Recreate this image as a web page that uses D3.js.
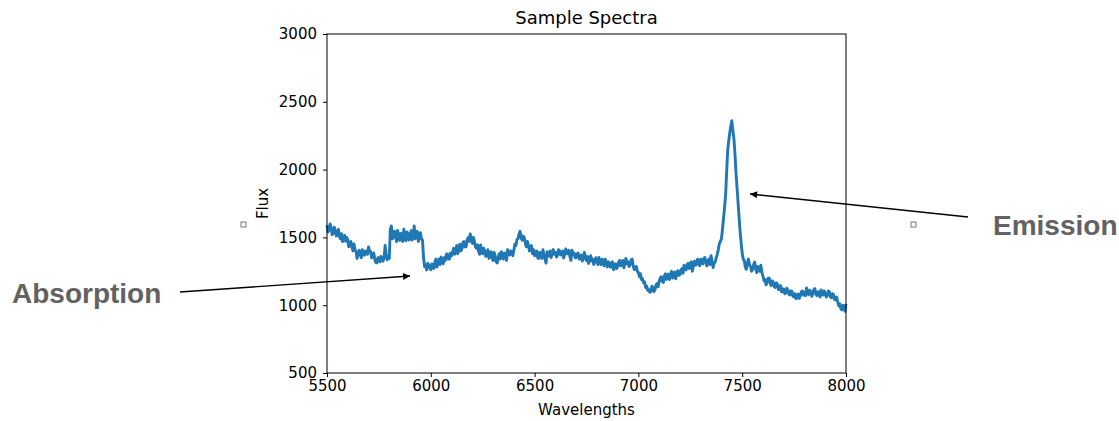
<!DOCTYPE html>
<html>
<head>
<meta charset="utf-8">
<script src="https://cdn.jsdelivr.net/npm/d3@7"></script>
<style>
  body { margin: 0; background: #fff; }
  svg { display: block; }
  .tick text { font-family: "DejaVu Sans", sans-serif; font-size: 15px; fill: #000; }
</style>
</head>
<body>
<svg id="chart" width="1119" height="421"></svg>
<script>
// wavelength grid: 5500..8000 every 5
const wlStart = 5500;
const wlStep = 5;

// flux, one row per 100 Å
const flux = [
  1590,1540,1555,1600,1570,1520,1530,1575,1548,1510,1540,1560,1505,1490,1528,1470,1490,1515,1472,1500,
  1480,1430,1445,1470,1430,1400,1452,1410,1395,1345,1385,1405,1372,1350,1410,1375,1368,1400,1390,1375,
  1430,1400,1395,1350,1362,1385,1340,1315,1312,1350,1348,1320,1360,1340,1325,1350,1440,1380,1335,1350,
  1345,1560,1585,1490,1500,1545,1520,1470,1552,1500,1478,1530,1495,1470,1560,1505,1475,1540,1530,1480,
  1505,1550,1480,1520,1585,1490,1510,1545,1470,1500,1535,1490,1480,1350,1285,1300,1260,1310,1298,1275,
  1262,1305,1300,1270,1318,1340,1282,1320,1340,1300,1355,1320,1305,1350,1330,1375,1378,1340,1340,1385,
  1365,1390,1420,1375,1395,1440,1380,1420,1450,1400,1415,1465,1470,1430,1430,1480,1500,1470,1525,1490,
  1455,1500,1470,1430,1420,1445,1398,1375,1445,1400,1380,1420,1400,1360,1372,1410,1345,1370,1395,1350,
  1330,1390,1365,1320,1312,1355,1380,1340,1395,1360,1340,1385,1368,1330,1410,1375,1370,1400,1395,1365,
  1405,1450,1440,1485,1490,1525,1545,1495,1480,1510,1500,1460,1430,1470,1445,1400,1415,1440,1380,1410,
  1365,1390,1400,1350,1345,1390,1372,1345,1410,1370,1340,1310,1395,1360,1365,1400,1352,1385,1410,1375,
  1390,1355,1365,1410,1402,1370,1380,1400,1348,1375,1415,1380,1378,1405,1360,1330,1405,1375,1385,1350,
  1350,1380,1385,1340,1342,1370,1325,1350,1390,1345,1330,1360,1308,1340,1365,1325,1340,1300,1318,1350,
  1330,1300,1352,1315,1300,1340,1325,1290,1340,1310,1282,1320,1315,1280,1290,1320,1262,1285,1305,1270,
  1285,1320,1330,1290,1305,1330,1275,1310,1345,1305,1320,1285,1300,1335,1340,1290,1262,1280,1285,1250,
  1240,1210,1232,1190,1195,1165,1170,1130,1140,1110,1115,1095,1100,1140,1130,1100,1115,1150,1160,1135,
  1175,1200,1210,1175,1168,1215,1232,1190,1205,1230,1190,1225,1250,1200,1215,1245,1195,1230,1255,1220,
  1225,1260,1270,1235,1295,1270,1260,1300,1310,1270,1290,1320,1250,1290,1325,1295,1300,1340,1318,1290,
  1340,1310,1305,1345,1352,1310,1290,1330,1340,1300,1365,1320,1278,1310,1320,1350,1375,1410,1455,1470,
  1490,1560,1640,1720,1810,1980,2140,2210,2270,2320,2360,2290,2230,2120,1980,1870,1760,1650,1540,1460,
  1385,1340,1330,1280,1265,1310,1340,1300,1285,1250,1262,1300,1318,1270,1240,1285,1272,1250,1295,1240,
  1215,1180,1190,1150,1168,1200,1200,1160,1145,1180,1170,1135,1130,1165,1155,1115,1118,1145,1098,1120,
  1120,1085,1090,1125,1112,1080,1075,1105,1102,1065,1060,1085,1048,1070,1082,1050,1070,1100,1105,1075,
  1095,1070,1128,1095,1078,1110,1100,1065,1085,1115,1122,1080,1070,1100,1095,1060,1112,1085,1075,1105,
  1090,1060,1072,1105,1100,1060,1055,1085,1078,1040,1040,1060,1025,995,1010,975,965,1000,990,955,
  1010
];

const xTicks = [5500, 6000, 6500, 7000, 7500, 8000];
const yTicks = [500, 1000, 1500, 2000, 2500, 3000];

// annotations: label, arrow tip in data coords
const notes = [
  { label: "Absorption", tip: [5900, 1215] },
  { label: "Emission", tip: [7538, 1820] }
];

const svg = d3.select('#chart');
const m = { left: 327, right: 846, top: 34, bottom: 373 };

const x = d3.scaleLinear().domain([5500, 8000]).range([m.left, m.right]);
const y = d3.scaleLinear().domain([500, 3000]).range([m.bottom, m.top]);

const points = flux.map((f, i) => [wlStart + i * wlStep, f]);

// spectrum line
const line = d3.line().x(d => x(d[0])).y(d => y(d[1]));
svg.append('path')
   .datum(points)
   .attr('d', line)
   .attr('fill', 'none')
   .attr('stroke', '#1f77b4')
   .attr('stroke-width', 2.9)
   .attr('stroke-linejoin', 'round');

// frame
svg.append('rect')
   .attr('x', m.left).attr('y', m.top)
   .attr('width', m.right - m.left).attr('height', m.bottom - m.top)
   .attr('fill', 'none').attr('stroke', '#000').attr('stroke-width', 1);

// axes
const xAxis = svg.append('g')
   .attr('transform', `translate(0,${m.bottom})`)
   .call(d3.axisBottom(x).tickValues(xTicks).tickSize(4).tickPadding(3).tickFormat(d3.format('d')));
const yAxis = svg.append('g')
   .attr('transform', `translate(${m.left},0)`)
   .call(d3.axisLeft(y).tickValues(yTicks).tickSize(4).tickPadding(6).tickFormat(d3.format('d')));
[xAxis, yAxis].forEach(g => {
  g.select('.domain').remove();
  g.selectAll('.tick line').attr('stroke', '#000');
});

// titles
svg.append('text')
   .attr('x', (m.left + m.right) / 2).attr('y', 24)
   .attr('text-anchor', 'middle')
   .style('font-family', '"DejaVu Sans", sans-serif').style('font-size', '18px')
   .text('Sample Spectra');
svg.append('text')
   .attr('x', (m.left + m.right) / 2).attr('y', 415)
   .attr('text-anchor', 'middle')
   .style('font-family', '"DejaVu Sans", sans-serif').style('font-size', '15px')
   .text('Wavelengths');
svg.append('text')
   .attr('transform', `translate(268,${(m.top + m.bottom) / 2}) rotate(-90)`)
   .attr('text-anchor', 'middle')
   .style('font-family', '"DejaVu Sans", sans-serif').style('font-size', '15px')
   .text('Flux');

// arrow marker
svg.append('defs').append('marker')
   .attr('id', 'head')
   .attr('viewBox', '0 0 10 10')
   .attr('refX', 10).attr('refY', 5)
   .attr('markerWidth', 10).attr('markerHeight', 7)
   .attr('markerUnits', 'userSpaceOnUse')
   .attr('orient', 'auto')
   .append('path').attr('d', 'M0,0 L10,5 L0,10 Z').attr('fill', '#000');

// annotation text + arrows (text positions in page pixels)
const notePos = [
  { tx: 12, ty: 303, from: [180, 292] },
  { tx: 993, ty: 235, from: [968, 217] }
];
notes.forEach((n, i) => {
  const p = notePos[i];
  svg.append('text')
     .attr('x', p.tx).attr('y', p.ty)
     .style('font-family', '"Liberation Sans", Arial, sans-serif')
     .style('font-size', '28px').style('font-weight', 'bold')
     .attr('fill', '#626262')
     .text(n.label);
  svg.append('line')
     .attr('x1', p.from[0]).attr('y1', p.from[1])
     .attr('x2', x(n.tip[0])).attr('y2', y(n.tip[1]))
     .attr('stroke', '#000').attr('stroke-width', 1.4)
     .attr('marker-end', 'url(#head)');
});

// two small empty boxes seen in the picture
[[241, 222], [911, 222]].forEach(([bx, by]) => {
  svg.append('rect')
     .attr('x', bx).attr('y', by).attr('width', 5).attr('height', 5)
     .attr('fill', 'none').attr('stroke', '#555').attr('stroke-width', 0.8);
});
</script>
</body>
</html>
